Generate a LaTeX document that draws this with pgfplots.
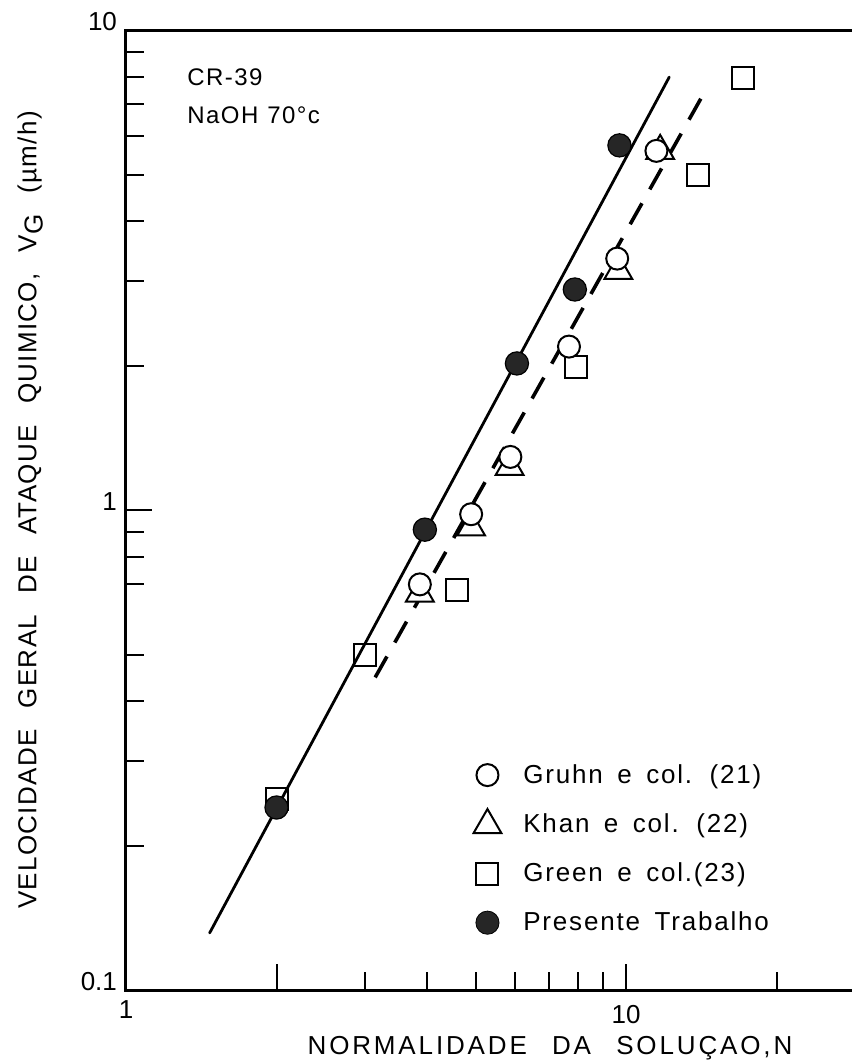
\documentclass[border=0pt]{standalone}
\usepackage{fontspec}
\setmainfont{Liberation Sans}
\newfontfamily\spaced[LetterSpace=11,WordSpace=2.5]{Liberation Sans}
\newfontfamily\spacedy[LetterSpace=5,WordSpace=2.5]{Liberation Sans}
\newfontfamily\spacedleg[LetterSpace=7,WordSpace=1.6]{Liberation Sans}
\newfontfamily\spacednote[LetterSpace=6,WordSpace=1.1]{Liberation Sans}
\usepackage{pgfplots}
\pgfplotsset{compat=1.18}

\newcommand\xlbl{\spaced\fontsize{13}{15}\selectfont}
\newcommand\ylbl{\spacedy\fontsize{13}{15}\selectfont}
\newcommand\leglbl{\spacedleg\fontsize{13}{15}\selectfont}

\begin{document}
\begin{tikzpicture}
\begin{axis}[
  xmode=log, ymode=log,
  scale only axis, width=363pt, height=480pt,
  xmin=1, xmax=28.3, ymin=0.1, ymax=10,
  axis x line*=box, axis y line*=left,
  axis line style={-, line width=1.5pt, line cap=rect},
  every outer x axis line/.append style={-},
  every outer y axis line/.append style={-},
  every inner x axis line/.append style={-},
  every inner y axis line/.append style={-},
  clip=false,
  tick align=inside,
  xtick pos=left, ytick pos=left,
  major tick length=13pt, minor tick length=9pt,
  every tick/.style={black, line width=1pt},
  xtick={1,2,10}, xticklabels={1,,\raisebox{-2pt}[\height][0pt]{10}},
  minor xtick={3,4,5,6,7,8,9,20},
  ytick={0.1,1,10}, yticklabels={0.1,1,10},
  minor ytick={0.2,0.3,0.4,0.5,0.7,0.8,0.9,2,3,4,5,6,7,8,9},
  /pgf/number format/assume math mode=true,
  tick label style={font=\fontsize{13}{15}\selectfont},
  xticklabel style={yshift=-2pt},
  yticklabel style={yshift=4pt, xshift=-1pt},
  xlabel={NORMALIDADE DA SOLUÇAO,N},
  xlabel style={at={(axis description cs:0.584,0)}, anchor=base, yshift=-32pt, font=\xlbl},
  ylabel={VELOCIDADE GERAL DE ATAQUE QUIMICO, V\raisebox{-0.45ex}{G} (µm/h)},
  ylabel style={at={(axis description cs:-0.132,0.5)}, anchor=center, font=\ylbl},
  legend style={at={(axis description cs:0.47,0.05)}, anchor=south west,
    draw=none, fill=none, font=\leglbl, row sep=9.5pt,
    /tikz/every odd column/.append style={column sep=9pt}},
  legend cell align=left,
]
% fitted trends
\addplot[black, line width=1.4pt, line cap=round, forget plot]
  coordinates {(1.47,0.1315) (12.2,7.98)};
\addplot[black, line width=1.8pt, dash pattern=on 12pt off 8pt, forget plot]
  coordinates {(3.15,0.448) (14.2,7.28)};

% Green e col. (23)
\addplot[only marks, mark=square, mark size=5.5pt, mark options={black, line width=1pt}, forget plot]
  coordinates {(2.0,0.25) (3.0,0.50) (4.6,0.68) (7.95,1.99) (13.9,5.0) (17.1,7.95)};
% Khan e col. (22)
\addplot[only marks, mark=triangle*, mark size=8pt, mark options={draw=black, fill=white, line width=1pt}, forget plot]
  coordinates {(3.87,0.67) (4.9,0.92) (5.85,1.23) (9.65,3.15) (11.7,5.6)};
% Gruhn e col. (21)
\addplot[only marks, mark=*, mark size=5.5pt, mark options={draw=black, fill=white, line width=1pt}, forget plot]
  coordinates {(3.87,0.70) (4.9,0.98) (5.87,1.29) (7.69,2.19) (9.6,3.34) (11.5,5.6)};
% Presente Trabalho
\addplot[only marks, mark=*, mark size=5.8pt, mark options={draw=black, fill=black!85, line width=0.6pt}, forget plot]
  coordinates {(2.0,0.24) (3.96,0.91) (6.05,2.02) (7.9,2.88) (9.7,5.75)};

\addlegendimage{only marks, mark=*, mark size=5.5pt, mark options={draw=black, fill=white, line width=1pt}}
\addlegendentry{Gruhn e col. (21)}
\addlegendimage{only marks, mark=triangle, mark size=8pt, mark options={black, line width=1pt}}
\addlegendentry{Khan e col. (22)}
\addlegendimage{only marks, mark=square, mark size=5.5pt, mark options={black, line width=1pt}}
\addlegendentry{Green e col.(23)}
\addlegendimage{only marks, mark=*, mark size=5.8pt, mark options={draw=black, fill=black!85}}
\addlegendentry{Presente Trabalho}

\node[anchor=north west, align=left, inner sep=0pt, font={\spacednote\fontsize{12}{19}\selectfont}]
  at (axis description cs:0.084,0.960) {CR-39\\NaOH 70°c};

\coordinate (ll) at (axis description cs:0,0);
\coordinate (ur) at (axis description cs:1,1);
\end{axis}
\pgfresetboundingbox
\path[use as bounding box] ([shift={(-63pt,-36.5pt)}]ll) rectangle ([shift={(0pt,15pt)}]ur);
\end{tikzpicture}
\end{document}
